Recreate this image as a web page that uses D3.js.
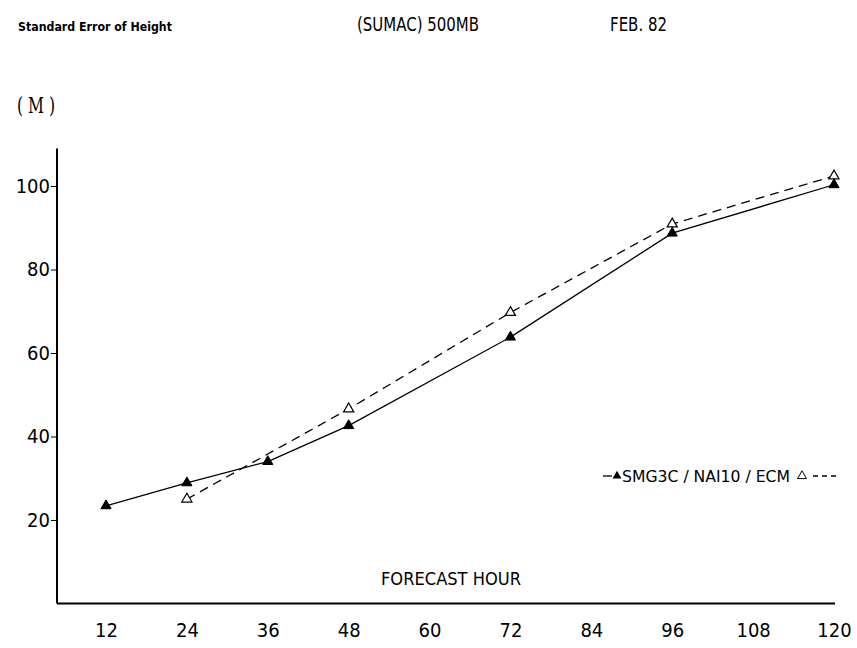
<!DOCTYPE html>
<html><head><meta charset="utf-8">
<script src="https://cdn.jsdelivr.net/npm/d3@7"></script>
<style>body{margin:0;background:#fff}svg{display:block}</style>
</head><body>
<svg id="c" width="857" height="648"></svg>
<script>
const hours = [12,24,36,48,60,72,84,96,108,120];
const yTicks = [20,40,60,80,100];
const smgHours = [12,24,36,48,72,96,120];
const smgValues = [23.4,28.9,34.0,42.6,63.8,88.7,100.3];
const ecmHours = [24,48,72,96,120];
const ecmValues = [25.0,46.6,69.7,90.9,102.4];

const svg = d3.select("#c");
const FONT = "'DejaVu Sans Condensed','Liberation Sans Narrow','DejaVu Sans',sans-serif";
const x = d3.scaleLinear().domain([12,120]).range([106,834]);
const y = d3.scaleLinear().domain([0,100]).range([603.5,186]);

function txt(xp, yp, s, size, len, opts={}) {
  const t = svg.append("text").attr("x",xp).attr("y",yp).attr("font-family",opts.family||FONT)
    .attr("font-size",size).attr("fill","#000").text(s);
  if (len) t.attr("textLength",len).attr("lengthAdjust","spacingAndGlyphs");
  if (opts.weight) t.attr("font-weight",opts.weight);
  return t;
}

// titles
txt(18,31,"Standard Error of Height",12,154,{weight:"bold"});
txt(357,31,"(SUMAC) 500MB",19,122);
txt(610,31,"FEB. 82",19,57);
txt(17,113,"( M )",22,38,{family:"'DejaVu Serif',serif"});

// axes lines
svg.append("line").attr("x1",57).attr("x2",57).attr("y1",y(109)).attr("y2",y(0)).attr("stroke","#000").attr("stroke-width",2);
svg.append("line").attr("x1",57).attr("x2",835).attr("y1",y(0)).attr("y2",y(0)).attr("stroke","#000").attr("stroke-width",2);

// y axis ticks
const ya = d3.axisLeft(y).tickValues(yTicks).tickSize(6).tickPadding(1).tickFormat(d3.format("d"));
const yg = svg.append("g").attr("transform","translate(57,0)").call(ya);
yg.select(".domain").remove();
yg.selectAll("text").attr("font-family",FONT).attr("font-size",20).attr("fill","#000");
yg.selectAll("line").attr("stroke","#000");

// x axis labels
const xa = d3.axisBottom(x).tickValues(hours).tickSize(0).tickPadding(19).tickFormat(d3.format("d"));
const xg = svg.append("g").attr("transform",`translate(0,${y(0)})`).call(xa);
xg.select(".domain").remove();
xg.selectAll("text").attr("font-family",FONT).attr("font-size",20).attr("fill","#000");

txt(381,585,"FORECAST HOUR",17,140);

// lines
const line = d3.line().x(d=>x(d[0])).y(d=>y(d[1]));
const smg = smgHours.map((h,i)=>[h,smgValues[i]]);
const ecm = ecmHours.map((h,i)=>[h,ecmValues[i]]);
svg.append("path").attr("d",line(ecm)).attr("fill","none").attr("stroke","#000").attr("stroke-width",1.3).attr("stroke-dasharray","9,6");
svg.append("path").attr("d",line(smg)).attr("fill","none").attr("stroke","#000").attr("stroke-width",1.3);

const tri = d3.symbol().type(d3.symbolTriangle).size(45);
svg.selectAll(".ecm").data(ecm).join("path").attr("d",tri)
  .attr("transform",d=>`translate(${x(d[0])},${y(d[1])})`).attr("fill","#fff").attr("stroke","#000").attr("stroke-width",1.2);
svg.selectAll(".smg").data(smg).join("path").attr("d",tri)
  .attr("transform",d=>`translate(${x(d[0])},${y(d[1])})`).attr("fill","#000").attr("stroke","#000");

// legend
const ly = 476;
svg.append("line").attr("x1",603).attr("x2",612).attr("y1",ly).attr("y2",ly).attr("stroke","#000").attr("stroke-width",1.3);
svg.append("path").attr("d",d3.symbol().type(d3.symbolTriangle).size(35)).attr("transform",`translate(617,${ly})`).attr("fill","#000");
txt(622,ly+6,"SMG3C / NAI10 / ECM",15,168);
svg.append("path").attr("d",d3.symbol().type(d3.symbolTriangle).size(35)).attr("transform",`translate(802,${ly})`).attr("fill","#fff").attr("stroke","#000");
svg.append("line").attr("x1",813).attr("x2",840).attr("y1",ly).attr("y2",ly).attr("stroke","#000").attr("stroke-width",1.3).attr("stroke-dasharray","5,4");
</script>
</body></html>
